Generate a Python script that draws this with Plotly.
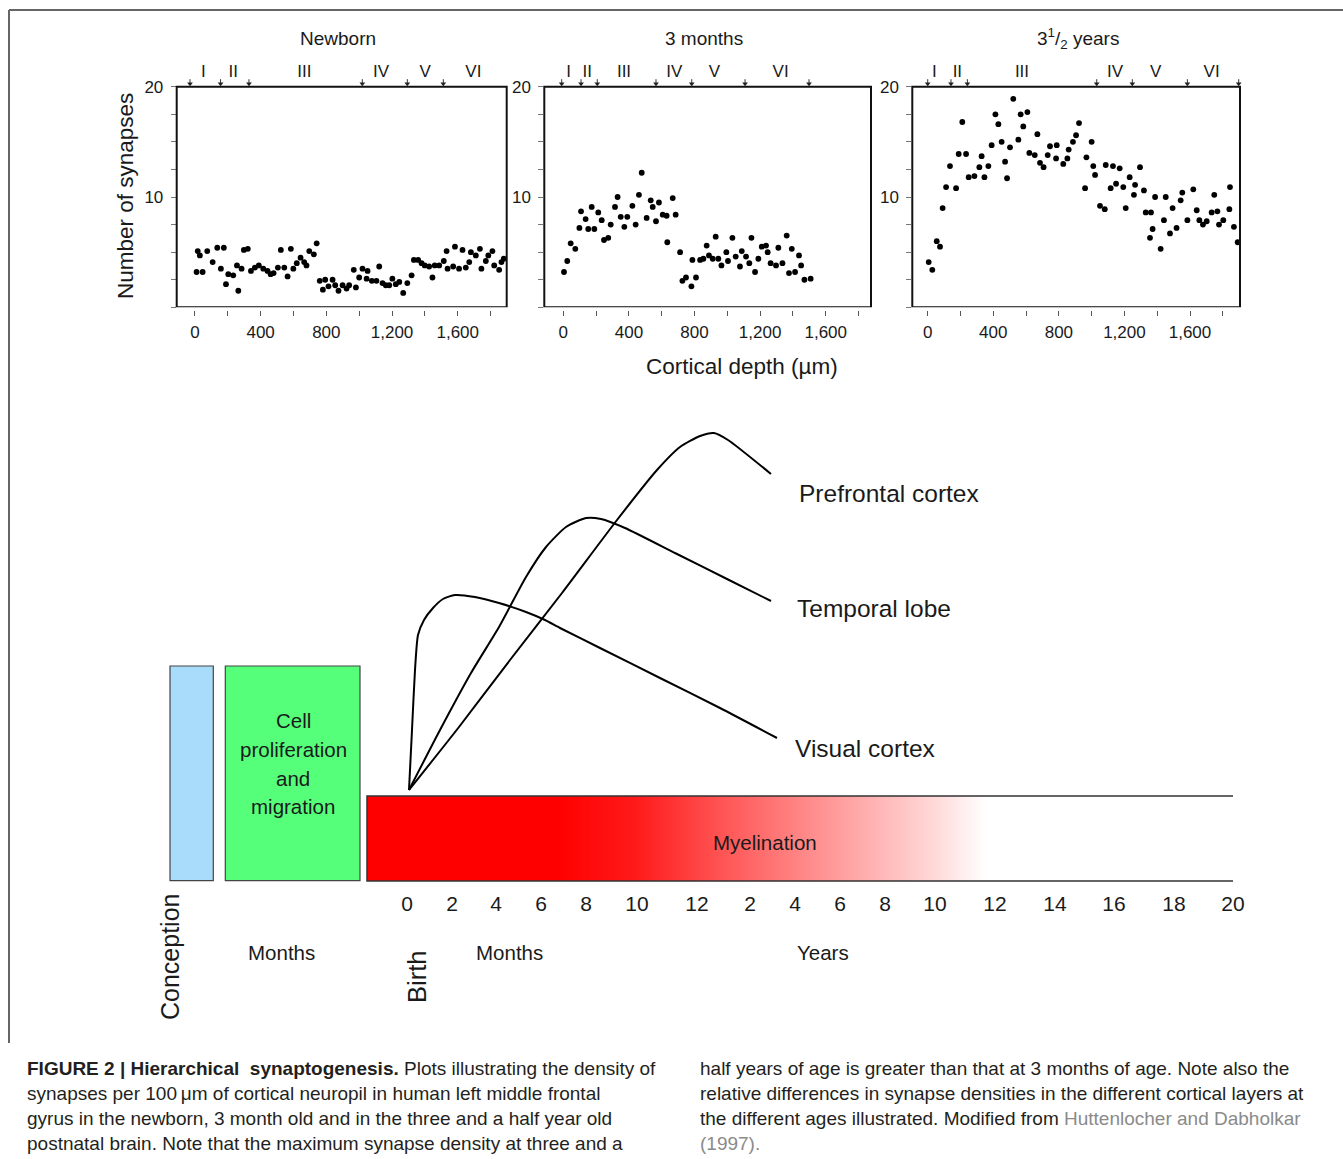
import plotly.graph_objects as go

W, H = 1343, 1159
FONT = "Liberation Sans, Arial, sans-serif"
CAP_FONT = "Liberation Sans, Arial, sans-serif"

# ---------------- data: synapse density panels ----------------
panel_titles = ["Newborn", "3 months", "3<sup>1</sup>/<sub>2</sub> years"]
layer_names = ["I", "II", "III", "IV", "V", "VI"]

newborn_depth = [10, 17, 30, 47, 75, 108, 136, 158, 176, 189, 203, 233, 256, 264, 284, 298, 322, 341, 365, 389,
                 416, 442, 461, 479, 505, 523, 544, 564, 584, 599, 620, 643, 665, 679, 696, 724, 741, 760, 779, 793,
                 813, 838, 854, 874, 899, 923, 939, 967, 980, 1000, 1020, 1045, 1051, 1077, 1105, 1122, 1142, 1162,
                 1183, 1202, 1223, 1244, 1268, 1293, 1319, 1333, 1359, 1380, 1399, 1426, 1446, 1460, 1487, 1515,
                 1532, 1538, 1572, 1583, 1608, 1629, 1649, 1670, 1680, 1710, 1735, 1744, 1771, 1786, 1811, 1822,
                 1852, 1866, 1880]
newborn_syn = [3.2, 5.1, 4.7, 3.2, 5.1, 4.1, 5.4, 3.5, 5.4, 2.1, 3.0, 2.9, 3.8, 1.5, 3.5, 5.2, 5.3, 3.3, 3.6, 3.8,
               3.5, 3.3, 3.0, 3.1, 3.6, 5.2, 3.6, 2.8, 5.3, 3.5, 4.0, 4.5, 4.1, 3.8, 5.1, 4.8, 5.8, 2.4, 1.6, 2.5,
               1.9, 2.5, 2.0, 1.5, 2.0, 1.7, 2.0, 3.4, 1.8, 2.7, 3.5, 2.6, 3.3, 2.4, 2.4, 3.7, 2.2, 2.0, 2.0, 2.6,
               2.1, 2.3, 1.3, 2.2, 2.9, 4.3, 4.3, 4.0, 3.8, 3.7, 2.7, 3.8, 3.8, 4.2, 5.1, 3.5, 3.7, 5.5, 3.5, 5.2,
               3.6, 4.1, 5.0, 4.7, 5.3, 3.5, 4.2, 4.7, 5.1, 3.8, 3.4, 4.1, 4.4]
newborn_layer_bounds = [-30, 156, 329, 1019, 1293, 1512]
newborn_layer_centers = [51, 233, 666, 1133, 1401, 1695]

m3_depth = [4, 24, 45, 73, 98, 108, 136, 152, 173, 189, 213, 234, 248, 274, 289, 315, 331, 350, 372, 390,
            421, 441, 461, 478, 508, 533, 545, 565, 583, 606, 630, 634, 667, 685, 712, 726, 748, 781, 787, 809,
            834, 854, 874, 888, 911, 929, 945, 964, 994, 1004, 1031, 1051, 1077, 1088, 1114, 1134, 1147, 1169,
            1189, 1210, 1236, 1246, 1264, 1297, 1311, 1336, 1362, 1376, 1393, 1413, 1437, 1450, 1470, 1508]
m3_syn = [3.2, 4.2, 5.8, 5.3, 7.2, 8.7, 8.0, 7.1, 9.1, 7.1, 8.6, 7.9, 6.1, 6.3, 7.5, 9.1, 10.0, 8.2, 7.3, 8.2,
          9.2, 7.5, 10.2, 12.2, 8.1, 9.7, 9.1, 7.8, 9.5, 8.4, 8.3, 5.9, 9.9, 8.4, 5.0, 2.4, 2.7, 1.9, 4.3, 2.7,
          4.3, 4.4, 5.6, 4.7, 4.4, 6.4, 4.4, 3.8, 5.0, 4.2, 6.3, 4.6, 3.7, 5.1, 4.6, 4.0, 6.3, 3.2, 4.4, 5.5,
          5.6, 5.0, 4.0, 3.8, 5.4, 4.0, 6.5, 3.1, 5.3, 3.2, 4.7, 3.8, 2.5, 2.6]
m3_layer_bounds = [-10, 108, 207, 565, 783, 1108, 1498]
m3_layer_centers = [33, 146, 370, 677, 921, 1325]

y35_depth = [6, 28, 55, 75, 91, 112, 136, 173, 189, 211, 234, 250, 285, 315, 329, 346, 370, 390, 413, 431,
             451, 472, 484, 502, 522, 553, 567, 583, 608, 620, 653, 669, 685, 707, 732, 746, 783, 787, 827, 852,
             860, 886, 905, 923, 960, 968, 1000, 1010, 1021, 1051, 1080, 1086, 1116, 1130, 1149, 1171, 1193, 1208,
             1232, 1258, 1265, 1295, 1319, 1330, 1356, 1362, 1372, 1387, 1421, 1441, 1452, 1478, 1494, 1518,
             1543, 1553, 1584, 1620, 1641, 1657, 1679, 1702, 1732, 1748, 1767, 1777, 1803, 1840, 1844, 1868, 1891]
y35_syn = [4.1, 3.4, 6.0, 5.5, 9.0, 10.9, 12.8, 10.8, 13.9, 16.8, 13.9, 11.8, 11.9, 12.7, 13.7, 11.8, 12.8, 14.7,
           17.5, 16.6, 15.0, 13.2, 11.7, 14.5, 18.9, 15.2, 17.5, 16.4, 17.7, 14.0, 13.8, 15.7, 13.1, 12.7, 13.8,
           14.6, 13.5, 14.7, 13.0, 13.5, 14.3, 15.0, 15.6, 16.7, 10.8, 13.6, 15.0, 12.8, 12.0, 9.2, 8.9, 12.9,
           10.8, 12.8, 11.2, 12.6, 10.9, 9.0, 11.8, 10.2, 11.1, 12.7, 10.6, 8.6, 6.3, 8.6, 7.1, 10.0, 5.3, 7.9,
           10.0, 6.7, 9.0, 7.2, 9.7, 10.4, 7.9, 10.7, 8.8, 7.9, 7.5, 7.8, 8.6, 10.2, 8.7, 7.5, 7.9, 8.9, 10.9,
           7.3, 5.9]
y35_layer_bounds = [0, 142, 242, 1031, 1248, 1584, 1897]
y35_layer_centers = [41, 181, 575, 1143, 1391, 1732]

x_tick_vals = [0, 200, 400, 600, 800, 1000, 1200, 1400, 1600, 1800]
x_tick_text = ["0", "", "400", "", "800", "", "1,200", "", "1,600", ""]
y_tick_vals = [0, 2.5, 5, 7.5, 10, 12.5, 15, 17.5, 20]
y_tick_text = ["", "", "", "", "10", "", "", "", "20"]

# ---------------- data: development schematic ----------------
timeline_labels = ["0", "2", "4", "6", "8", "10", "12", "2", "4", "6", "8", "10", "12", "14", "16", "18", "20"]
visual_x = [409, 412, 415, 418, 424, 433, 443, 455, 475, 499, 526, 545, 560, 600, 660, 720, 777]
visual_y = [790, 730, 670, 635, 620, 608, 599, 595, 597, 603, 612, 620, 628, 648, 678, 708, 738]
temporal_x = [409, 440, 471, 499, 526, 546, 566, 586, 601, 625, 676, 728, 771]
temporal_y = [790, 730, 673, 627, 577, 547, 527, 518, 519, 528, 553.5, 579.5, 601]
prefrontal_x = [409, 459, 510, 562, 617, 657, 680, 700, 714, 728, 771]
prefrontal_y = [790, 727, 660, 593, 520, 470, 447, 436, 433, 440, 474]
curve_labels = ["Prefrontal cortex", "Temporal lobe", "Visual cortex"]

# ---------------- layout helpers ----------------
def px(x):
    return x / W

def py(y):
    return 1 - y / H

panels = [
    dict(x0=176.7, x1=506.7, rng=[-111, 1898], depth=newborn_depth, syn=newborn_syn,
         bounds=newborn_layer_bounds, centers=newborn_layer_centers),
    dict(x0=544.3, x1=871.0, rng=[-116, 1876], depth=m3_depth, syn=m3_syn,
         bounds=m3_layer_bounds, centers=m3_layer_centers),
    dict(x0=912.3, x1=1240.0, rng=[-94, 1905], depth=y35_depth, syn=y35_syn,
         bounds=y35_layer_bounds, centers=y35_layer_centers),
]
BOX_TOP, BOX_BOT = 86.7, 307.3
Y_MAX = 22.5                                   # headroom above 20 for the layer markers
UNIT = (BOX_BOT - BOX_TOP) / 20.0              # px per synapse unit
AREA_TOP = BOX_BOT - Y_MAX * UNIT
TXT = "#1a1a1a"

fig = go.Figure()
layout = dict(
    width=W, height=H, margin=dict(l=0, r=0, t=0, b=0, pad=0, autoexpand=False),
    paper_bgcolor="white", plot_bgcolor="rgba(0,0,0,0)",
    showlegend=False, font=dict(family=FONT, color=TXT),
)

shapes = []
annotations = []

for i, p in enumerate(panels, start=1):
    xa = "x" if i == 1 else f"x{i}"
    ya = "y" if i == 1 else f"y{i}"
    xkey = "xaxis" if i == 1 else f"xaxis{i}"
    ykey = "yaxis" if i == 1 else f"yaxis{i}"
    layout[xkey] = dict(
        domain=[px(p["x0"]), px(p["x1"])], range=p["rng"], anchor="free",
        position=py(BOX_BOT + 2.5), showgrid=False, zeroline=False, showline=False,
        ticks="outside", ticklen=5, tickwidth=1, tickcolor="#555",
        tickvals=x_tick_vals, ticktext=x_tick_text,
        tickfont=dict(family=FONT, size=17, color=TXT), ticklabelstandoff=2,
        fixedrange=True, automargin=False,
    )
    layout[ykey] = dict(
        domain=[py(BOX_BOT), py(AREA_TOP)], range=[0, Y_MAX], anchor=xa,
        showgrid=False, zeroline=False, showline=False,
        ticks="outside", ticklen=5, tickwidth=1, tickcolor="#777",
        tickvals=y_tick_vals, ticktext=y_tick_text,
        tickfont=dict(family=FONT, size=17, color=TXT), ticklabelstandoff=4,
        fixedrange=True, automargin=False,
    )
    shapes.append(dict(type="rect", xref=f"{xa} domain", yref=ya,
                       x0=0, x1=1, y0=0, y1=20, line=dict(color="#111", width=2),
                       fillcolor="rgba(0,0,0,0)", layer="above"))
    # data points
    fig.add_trace(go.Scatter(x=p["depth"], y=p["syn"], mode="markers", xaxis=xa, yaxis=ya,
                             marker=dict(color="#000", size=5.8), cliponaxis=False,
                             hoverinfo="skip"))
    # layer boundary arrows
    sx, sy = [], []
    for b in p["bounds"]:
        sx += [b, b, None]
        sy += [20.68, 20.2, None]
    fig.add_trace(go.Scatter(x=sx, y=sy, mode="lines", xaxis=xa, yaxis=ya,
                             line=dict(color="#333", width=1), cliponaxis=False, hoverinfo="skip"))
    fig.add_trace(go.Scatter(x=p["bounds"], y=[20.27] * len(p["bounds"]), mode="markers",
                             xaxis=xa, yaxis=ya, cliponaxis=False, hoverinfo="skip",
                             marker=dict(symbol="triangle-down", size=5, color="#222")))
    # layer names
    fig.add_trace(go.Scatter(x=p["centers"], y=[21.25] * len(p["centers"]), mode="text",
                             text=layer_names, xaxis=xa, yaxis=ya, cliponaxis=False,
                             textfont=dict(family=FONT, size=17, color=TXT),
                             hoverinfo="skip"))
    annotations.append(dict(xref="paper", yref="paper", x=px((p["x0"] + p["x1"]) / 2 - 4 + (6 if i == 3 else 0)),
                            y=py(38), text=panel_titles[i - 1], showarrow=False,
                            xanchor="center", yanchor="middle",
                            font=dict(family=FONT, size=19, color=TXT)))

# canvas axis for the schematic (pixel-like units)
timeline_pos = [407, 452, 496, 541, 586, 637, 697, 750, 795, 840, 885, 935, 995, 1055, 1114, 1174, 1233]
layout["xaxis4"] = dict(domain=[0, 1], range=[0, W], anchor="free", position=py(889),
                        showgrid=False, zeroline=False, showline=False, ticks="",
                        tickvals=timeline_pos, ticktext=timeline_labels,
                        tickfont=dict(family=FONT, size=21, color=TXT), fixedrange=True,
                        automargin=False)
layout["yaxis4"] = dict(domain=[0, 1], range=[H, 0], anchor="x4", visible=False, fixedrange=True)

# myelination gradient bar
bar_x = [367, 1233, 1233, 367, 367]
bar_y = [796, 796, 881, 881, 796]
fig.add_trace(go.Scatter(
    x=bar_x, y=bar_y, xaxis="x4", yaxis="y4", mode="lines", fill="toself",
    line=dict(width=0, color="rgba(0,0,0,0)"), hoverinfo="skip",
    fillgradient=dict(type="horizontal", colorscale=[
        [0.0, "#ff0000"], [0.22, "#ff0000"], [0.31, "#ff1a1a"], [0.40, "#ff4f4f"],
        [0.50, "#ff8585"], [0.58, "#ffb0b0"], [0.655, "#ffd8d8"], [0.715, "#ffffff"],
        [1.0, "#ffffff"]]),
))
fig.add_trace(go.Scatter(x=[1233, 367, 367, 1233], y=[796, 796, 881, 881], xaxis="x4", yaxis="y4",
                         mode="lines", line=dict(color="#333", width=1.5), hoverinfo="skip"))

# developmental curves
for cx, cy in [(visual_x, visual_y), (temporal_x, temporal_y), (prefrontal_x, prefrontal_y)]:
    fig.add_trace(go.Scatter(x=cx, y=cy, xaxis="x4", yaxis="y4", mode="lines",
                             line=dict(color="#000", width=2, shape="spline", smoothing=0.6),
                             hoverinfo="skip"))

# boxes
shapes.append(dict(type="rect", xref="x4", yref="y4", x0=170, x1=213.3, y0=666, y1=880.7,
                   fillcolor="#a9dcfa", line=dict(color="#444", width=1.2), layer="below"))
shapes.append(dict(type="rect", xref="x4", yref="y4", x0=225.3, x1=360, y0=666, y1=880.7,
                   fillcolor="#55ff7a", line=dict(color="#444", width=1.2), layer="below"))
# outer frame
shapes.append(dict(type="line", xref="x4", yref="y4", x0=9, x1=W, y0=10, y1=10,
                   line=dict(color="#666", width=2)))
shapes.append(dict(type="line", xref="x4", yref="y4", x0=9, x1=9, y0=10, y1=1043,
                   line=dict(color="#666", width=2)))

def ann(x, y, text, size, xanchor="center", angle=0, family=FONT, color=TXT):
    annotations.append(dict(xref="x4", yref="y4", x=x, y=y, text=text, showarrow=False,
                            xanchor=xanchor, yanchor="middle", textangle=angle,
                            font=dict(family=family, size=size, color=color)))

ann(125, 196, "Number of synapses", 22.5, angle=-90)
ann(742, 366, "Cortical depth (µm)", 22.5)

for t, yy in zip(["Cell", "proliferation", "and", "migration"], [720, 749, 778, 806]):
    ann(293, yy, t, 20.5)
ann(765, 842, "Myelination", 20.5)
ann(797, 493, curve_labels[0], 24.5, xanchor="left")
ann(795, 608, curve_labels[1], 24.5, xanchor="left")
ann(793, 748, curve_labels[2], 24.5, xanchor="left")
ann(281, 952, "Months", 20.5)
ann(509, 952, "Months", 20.5)
ann(823, 952, "Years", 20.5)
ann(170, 957, "Conception", 25, angle=-90)
ann(417, 977, "Birth", 25.5, angle=-90)

# caption
CAP = 19
cap_color = "#231f20"
grey = "#8a8a8a"
left_lines = [
    "<b>FIGURE 2 | Hierarchical  synaptogenesis.</b> Plots illustrating the density of",
    "synapses per 100\u2009μm of cortical neuropil in human left middle frontal",
    "gyrus in the newborn, 3 month old and in the three and a half year old",
    "postnatal brain. Note that the maximum synapse density at three and a",
]
right_lines = [
    "half years of age is greater than that at 3 months of age. Note also the",
    "relative differences in synapse densities in the different cortical layers at",
    f"the different ages illustrated. Modified from <span style='color:{grey}'>Huttenlocher and Dabholkar</span>",
    f"<span style='color:{grey}'>(1997).</span>",
]
for k, yy in enumerate([1068, 1093, 1118, 1143]):
    ann(25, yy, left_lines[k], CAP, xanchor="left", family=CAP_FONT, color=cap_color)
    ann(698, yy, right_lines[k], CAP, xanchor="left", family=CAP_FONT, color=cap_color)

layout["shapes"] = shapes
layout["annotations"] = annotations
fig.update_layout(**layout)

fig.write_html("out.html", config={"displayModeBar": False},
               post_script="document.body.style.margin='0';document.body.style.overflow='hidden';")
